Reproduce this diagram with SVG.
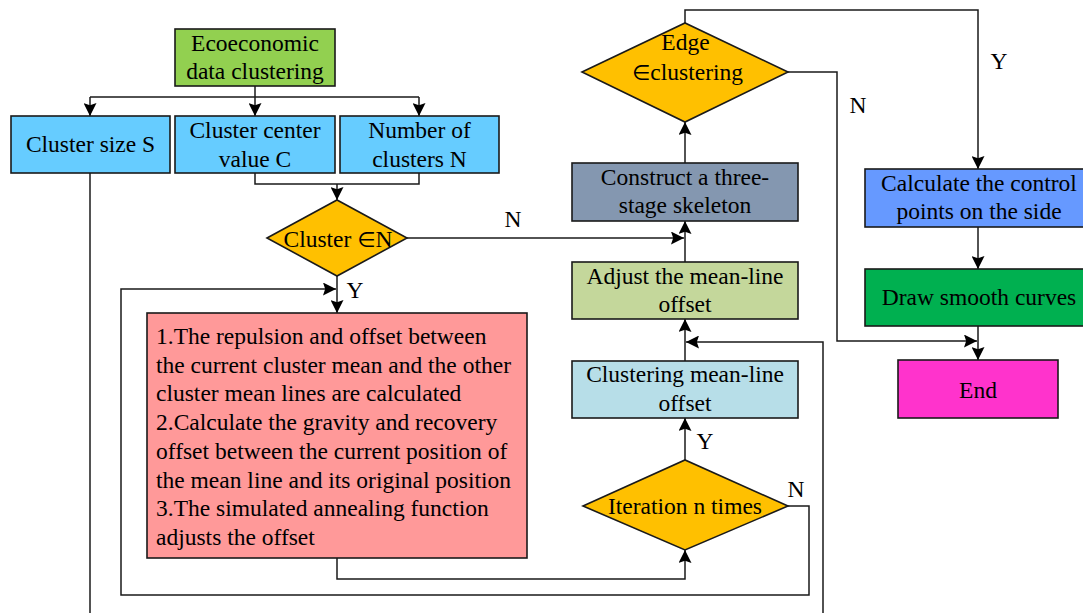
<svg xmlns="http://www.w3.org/2000/svg" width="1083" height="613" viewBox="0 0 1083 613">
<style>
.n{stroke:#1a1a1a;stroke-width:1.6}
.c{fill:none;stroke:#1a1a1a;stroke-width:1.5}
text{font-family:"Liberation Serif","Times New Roman",serif;font-size:23.5px;fill:#000}
.m{text-anchor:middle}
.e{font-family:"DejaVu Sans","Liberation Sans",sans-serif;font-size:21px}
</style>
<defs>
<marker id="a" markerUnits="userSpaceOnUse" markerWidth="13" markerHeight="13" viewBox="0 0 12 12" refX="12" refY="6" orient="auto">
<path d="M0,0 L12,6 L0,12 L2,6 Z" fill="#000"/>
</marker>
</defs>
<rect width="1083" height="613" fill="#fff"/>
<g id="connectors">
<path class="c" d="M255,86 V97 M90,97 H419"/>
<path class="c" d="M90,97 V116" marker-end="url(#a)"/>
<path class="c" d="M255,97 V116" marker-end="url(#a)"/>
<path class="c" d="M419,97 V116" marker-end="url(#a)"/>
<path class="c" d="M255,173 V184 H419 V173"/>
<path class="c" d="M337,184 V200" marker-end="url(#a)"/>
<path class="c" d="M90,173 V613"/>
<path class="c" d="M407,238 H684" marker-end="url(#a)"/>
<path class="c" d="M337,276 V313" marker-end="url(#a)"/>
<path class="c" d="M788,506 H809 V595 H121 V289 H336" marker-end="url(#a)"/>
<path class="c" d="M337,558 V579 H685 V550" marker-end="url(#a)"/>
<path class="c" d="M685,460 V418" marker-end="url(#a)"/>
<path class="c" d="M685,361 V319" marker-end="url(#a)"/>
<path class="c" d="M823,613 V342 H686" marker-end="url(#a)"/>
<path class="c" d="M685,262 V221" marker-end="url(#a)"/>
<path class="c" d="M685,163 V122" marker-end="url(#a)"/>
<path class="c" d="M685,23 V10 H978 V169" marker-end="url(#a)"/>
<path class="c" d="M788,72 H837 V341 H977" marker-end="url(#a)"/>
<path class="c" d="M978,227 V269" marker-end="url(#a)"/>
<path class="c" d="M978,326 V360" marker-end="url(#a)"/>
<text class="m" x="513" y="227">N</text>
<text class="m" x="355" y="298">Y</text>
<text class="m" x="999" y="69">Y</text>
<text class="m" x="858" y="113">N</text>
<text class="m" x="705" y="449">Y</text>
<text class="m" x="796" y="497">N</text>
</g>
<g id="eco">
<rect class="n" x="175" y="29" width="160" height="57" fill="#92D050"/>
<text class="m" x="255" y="51">Ecoeconomic</text>
<text class="m" x="255" y="79">data clustering</text>
</g>
<g id="size">
<rect class="n" x="11" y="116" width="159" height="57" fill="#66CCFF"/>
<text class="m" x="90.5" y="152">Cluster size S</text>
</g>
<g id="center">
<rect class="n" x="175" y="116" width="160" height="57" fill="#66CCFF"/>
<text class="m" x="255" y="138">Cluster center</text>
<text class="m" x="255" y="166.5">value C</text>
</g>
<g id="number">
<rect class="n" x="340" y="116" width="159" height="57" fill="#66CCFF"/>
<text class="m" x="419.5" y="138">Number of</text>
<text class="m" x="419.5" y="166.5">clusters N</text>
</g>
<g id="clusterN">
<polygon class="n" points="267,238 337,200 407,238 337,276" fill="#FFC000"/>
<text class="m" x="338" y="246.5">Cluster <tspan class="e">∈</tspan>N</text>
</g>
<g id="calc">
<rect class="n" x="147" y="313" width="380" height="245" fill="#FF9999"/>
<text x="156" y="344">1.The repulsion and offset between</text>
<text x="156" y="372.7">the current cluster mean and the other</text>
<text x="156" y="401.4">cluster mean lines are calculated</text>
<text x="156" y="430">2.Calculate the gravity and recovery</text>
<text x="156" y="458.8">offset between the current position of</text>
<text x="156" y="487.5">the mean line and its original position</text>
<text x="156" y="516.2">3.The simulated annealing function</text>
<text x="156" y="545">adjusts the offset</text>
</g>
<g id="iteration">
<polygon class="n" points="583,506 685,460 788,506 685,550" fill="#FFC000"/>
<text class="m" x="685" y="513.5">Iteration n times</text>
</g>
<g id="clusteringOffset">
<rect class="n" x="572" y="361" width="226" height="57" fill="#B7DEE8"/>
<text class="m" x="685" y="382">Clustering mean-line</text>
<text class="m" x="685" y="410.5">offset</text>
</g>
<g id="adjust">
<rect class="n" x="572" y="262" width="226" height="57" fill="#C4D79B"/>
<text class="m" x="685" y="283.5">Adjust the mean-line</text>
<text class="m" x="685" y="312">offset</text>
</g>
<g id="skeleton">
<rect class="n" x="572" y="163" width="226" height="58" fill="#8497B0"/>
<text class="m" x="685" y="184.5">Construct a three-</text>
<text class="m" x="685" y="212.5">stage skeleton</text>
</g>
<g id="edge">
<polygon class="n" points="582,72 685,23 788,72 685,122" fill="#FFC000"/>
<text class="m" x="685.5" y="49.5">Edge</text>
<text class="m" x="687.5" y="79.5"><tspan class="e">∈</tspan>clustering</text>
</g>
<g id="control">
<rect class="n" x="865" y="169" width="226" height="58" fill="#6699FF"/>
<text class="m" x="979" y="191">Calculate the control</text>
<text class="m" x="979" y="219">points on the side</text>
</g>
<g id="draw">
<rect class="n" x="865" y="269" width="226" height="57" fill="#00B050"/>
<text class="m" x="979" y="305">Draw smooth curves</text>
</g>
<g id="end">
<rect class="n" x="898" y="360" width="160" height="58" fill="#FF33CC"/>
<text class="m" x="978" y="398">End</text>
</g>
</svg>
